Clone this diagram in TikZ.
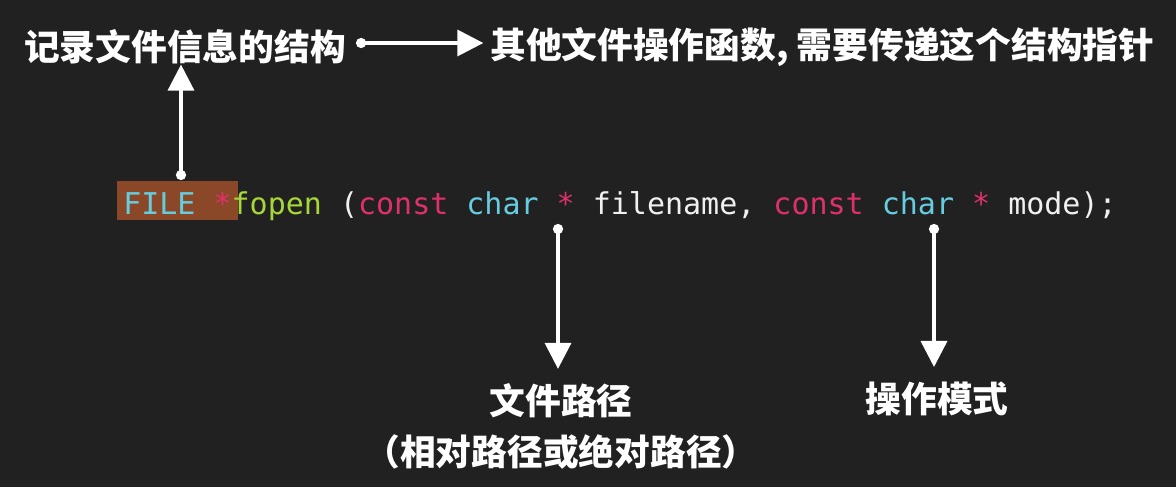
\documentclass[tikz,border=0pt]{standalone}
\usepackage{fontspec}
\usepackage{xcolor}
\usetikzlibrary{arrows.meta,positioning}
\newfontfamily\cjk{Noto Sans CJK SC}
\newfontfamily\codefont{DejaVu Sans Mono}
\definecolor{slidebg}{RGB}{33,33,33}
\definecolor{filebrown}{RGB}{138,72,40}
\definecolor{kwpink}{RGB}{222,48,108}
\definecolor{typecyan}{RGB}{102,204,224}
\definecolor{fngreen}{RGB}{166,214,58}
\definecolor{plainwhite}{RGB}{240,240,240}
\begin{document}
\begin{tikzpicture}[x=0.75pt,y=-0.75pt,note/.style={text=white,inner sep=0,font=\cjk\bfseries\fontsize{26.8}{32}\selectfont},codeline/.style={text=plainwhite,inner sep=0,font=\codefont\fontsize{22.5}{27}\selectfont},pointer/.style={{Circle[length=7.5pt]}-{Triangle[length=19.5pt,width=19.5pt]},line width=2.6pt,draw=white}]
\useasboundingbox (0,0) rectangle (1176,487);
\fill[slidebg] (0,0) rectangle (1176,487);
\node[note] (record) at (185,47) {记录文件信息的结构};
\node[note,anchor=west] (others) at (490,47) {其他文件操作函数, 需要传递这个结构指针};
\fill[filebrown] (117,181) rectangle (238,220);
\node[codeline,anchor=base west] (code) at (123,214) {\textcolor{typecyan}{FILE} \textcolor{kwpink}{*}\textcolor{fngreen}{fopen} (\textcolor{kwpink}{const} \textcolor{typecyan}{char} \textcolor{kwpink}{*} filename, \textcolor{kwpink}{const} \textcolor{typecyan}{char} \textcolor{kwpink}{*} mode);};
\node[note] (path) at (561,401) {文件路径};
\node[note,below=12pt of path] (pathnote) {（相对路径或绝对路径）};
\node[note] (mode) at (937,399) {操作模式};
\coordinate (fileDot) at (181,180);
\coordinate (nameDot) at (558,224);
\coordinate (modeDot) at (934,224);
\draw[pointer] (fileDot) -- (fileDot |- record.south);
\draw[pointer,shorten <=7.5pt,shorten >=5pt] ([yshift=3pt]record.east) -- ([yshift=3pt]others.west);
\draw[pointer,shorten >=11pt] (nameDot) -- (nameDot |- path.north);
\draw[pointer,shorten >=11pt] (modeDot) -- (modeDot |- mode.north);
\end{tikzpicture}
\end{document}
